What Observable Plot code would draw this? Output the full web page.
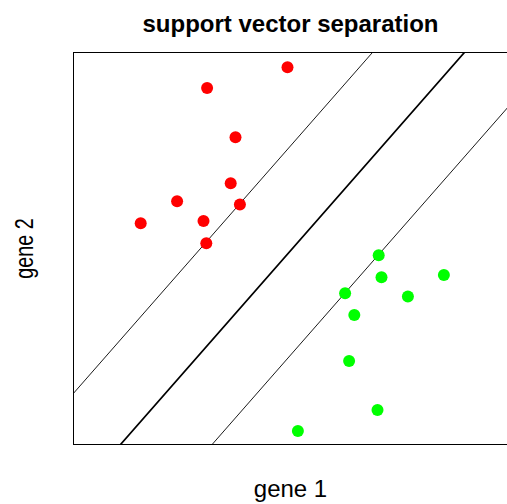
<!DOCTYPE html>
<html><head><meta charset="utf-8">
<script src="https://cdn.jsdelivr.net/npm/d3@7"></script>
<script src="https://cdn.jsdelivr.net/npm/@observablehq/plot@0.6"></script>
<style>body{margin:0;background:#fff;}</style>
</head><body><div id="chart"></div>
<script>
// class A (red) points: gene 1, gene 2
const redGene1 = [5.35, 3.34, 4.05, 3.93, 2.59, 4.16, 1.68, 3.25, 3.32];
const redGene2 = [9.43, 8.91, 7.68, 6.53, 6.08, 6.00, 5.53, 5.59, 5.03];
// class B (green) points
const greenGene1 = [7.63, 7.70, 9.26, 6.79, 8.36, 7.02, 6.89, 7.60, 5.61];
const greenGene2 = [4.73, 4.18, 4.24, 3.78, 3.70, 3.24, 2.09, 0.86, 0.34];
// separating hyperplane and margins: y = intercept + slope * x
const lineSlope = 1.14;
const lineIntercepts = [1.28, -1.34, -3.95];
const lineWidths = [0.9, 1.7, 0.9];
const titleText = "support vector separation";
const xLabel = "gene 1";
const yLabel = "gene 2";

const points = [
  ...redGene1.map((x, i) => ({x, y: redGene2[i], cls: "red"})),
  ...greenGene1.map((x, i) => ({x, y: greenGene2[i], cls: "green"}))
];
const xs = [-2, 14];
const lines = lineIntercepts.flatMap((b, k) => xs.map(x => ({x, y: b + lineSlope * x, k})));

const chart = Plot.plot({
  width: 507, height: 504,
  marginLeft: 73, marginRight: 0, marginTop: 52, marginBottom: 60,
  x: {domain: [0, 10.85], axis: null},
  y: {domain: [0, 9.8], axis: null},
  style: {fontFamily: "'Liberation Sans', Arial, sans-serif", background: "#fff"},
  marks: [
    Plot.line(lines.filter(d => d.k === 0), {x: "x", y: "y", stroke: "black", strokeWidth: lineWidths[0], clip: true}),
    Plot.line(lines.filter(d => d.k === 1), {x: "x", y: "y", stroke: "black", strokeWidth: lineWidths[1], clip: true}),
    Plot.line(lines.filter(d => d.k === 2), {x: "x", y: "y", stroke: "black", strokeWidth: lineWidths[2], clip: true}),
    Plot.dot(points, {x: "x", y: "y", r: 6, fill: d => d.cls === "red" ? "#ff0000" : "#00ff00", stroke: "none"}),
    Plot.ruleY([0, 9.8], {stroke: "black", strokeWidth: 1}),
    Plot.ruleX([0], {stroke: "black", strokeWidth: 1}),
    Plot.text([titleText], {frameAnchor: "top", dy: -28, fontSize: 24, fontWeight: "bold", fill: "black", lineAnchor: "middle"}),
    Plot.text([xLabel], {frameAnchor: "bottom", dy: 45, fontSize: 24, fill: "black", lineAnchor: "middle"}),
    Plot.text([yLabel], {frameAnchor: "left", dx: -49, rotate: -90, fontSize: 26, fill: "black", lineAnchor: "middle", textAnchor: "middle", className: "ylab"})
  ]
});
d3.select(chart).selectAll(".ylab text, text.ylab").each(function() {
  const t = this.getAttribute("transform");
  if (t) this.setAttribute("transform", t + " scale(0.76,1)");
});
document.getElementById("chart").append(chart);
</script>
</body></html>
